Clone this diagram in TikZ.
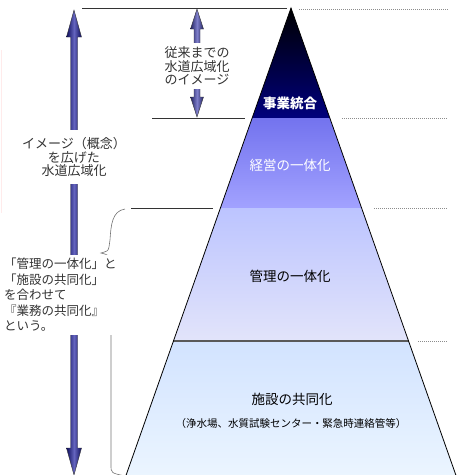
\documentclass[tikz,border=0pt]{standalone}
\usepackage{fontspec}
\setmainfont{Noto Sans CJK JP}
\usepackage{tikz}
\usetikzlibrary{positioning,calc}

\definecolor{navy}{RGB}{14,14,92}
\definecolor{lilac}{RGB}{100,100,190}
\definecolor{slate}{RGB}{35,35,100}
\definecolor{slatelt}{RGB}{125,125,200}
\definecolor{jgB}{RGB}{0,0,125}
\definecolor{keiA}{RGB}{115,115,238}
\definecolor{keiB}{RGB}{162,162,255}
\definecolor{kanA}{RGB}{188,196,255}
\definecolor{kanB}{RGB}{226,228,250}
\definecolor{shiA}{RGB}{210,227,255}
\definecolor{shiB}{RGB}{235,245,255}

% vertical block arrow: style, top tip, bottom tip, head length, head half width, shaft half width
\newcommand\blockarrow[6]{%
  \draw[#1] (#2) -- ++(#5,-#4) -- ++(#6-#5,0) -- ($(#3)+(#6,#4)$) -- ++(#5-#6,0) -- (#3)
    -- ++(-#5,#4) -- ++(#5-#6,0) -- ($(#2)+(-#6,-#4)$) -- ++(#6-#5,0) -- cycle;}

\begin{document}
\begin{tikzpicture}[x=1pt, y=1pt,
    guide/.style={black!80, line width=0.8pt},
    dots/.style={black!45, line width=0.6pt, dash pattern=on 1pt off 1pt},
    bigarrow/.style={draw=black!80, line width=0.4pt, left color=navy, right color=navy, middle color=lilac},
    oldarrow/.style={draw=black!80, line width=0.4pt, left color=slate, right color=slate, middle color=slatelt},
    note/.style={fill=white, inner sep=1pt, align=center, text=black!80, font=\fontsize{13}{13.5}\selectfont},
    layer/.style={font=\fontsize{13.5}{15}\selectfont}]
    \useasboundingbox (0,0) rectangle (463,-475);

    % pyramid
    \coordinate (apex) at (291,-8);
    \foreach \n/\y in {jg/118, kei/208, kan/341, bot/476}{
        \coordinate (\n-l) at ({291-0.353*(\y-8)},-\y);
        \coordinate (\n-r) at ({291+0.353*(\y-8)},-\y);
    }
    \path[top color=black, bottom color=jgB] (apex) -- (jg-r) -- (jg-l) -- cycle;
    \path[top color=keiA, bottom color=keiB] (jg-l) -- (jg-r) -- (kei-r) -- (kei-l) -- cycle;
    \path[top color=kanA, bottom color=kanB] (kei-l) -- (kei-r) -- (kan-r) -- (kan-l) -- cycle;
    \path[top color=shiA, bottom color=shiB] (kan-l) -- (kan-r) -- (bot-r) -- (bot-l) -- cycle;
    \draw[black!65, line width=1.4pt] (kan-l) -- (kan-r);
    \draw[line width=0.8pt] (bot-l) -- (apex) -- (bot-r);

    \node[white, font=\fontsize{13.5}{15}\selectfont\bfseries] (jigyo) at (290,-103) {事業統合};
    \node[layer, white] (keiei) at (290,-165) {経営の一体化};
    \node[layer] (kanri) at (290,-276) {管理の一体化};
    \node[layer] (shisetsu) at (292,-399) {施設の共同化};
    \node[font=\fontsize{10.5}{12}\selectfont] (rei) at (291,-424) {（浄水場、水質試験センター・緊急時連絡管等）};

    % level lines
    \foreach \n/\a/\b/\y in {0/82/287/8, 1/152/245/118, 2/131/213/208}{
        \coordinate (ga\n) at (\a,-\y);
        \coordinate (gb\n) at (\b,-\y);
        \draw[guide] (ga\n) -- (gb\n);
    }
    \foreach \n/\a/\y in {0/299/9, 1/342/118, 2/374/208, 3/418/341}{
        \coordinate (da\n) at (\a,-\y);
        \coordinate (db\n) at (448,-\y);
        \draw[dots] (da\n) -- (db\n);
    }
    \coordinate (edge a) at (1,-50);
    \coordinate (edge b) at (1,-213);
    \draw[red!8, line width=0.6pt] (edge a) -- (edge b);

    % arrows
    \coordinate (big top) at (74,-10);
    \coordinate (big bot) at (74,-475);
    \blockarrow{bigarrow}{big top}{big bot}{27}{7.5}{3.5}
    \coordinate (old top) at (197,-9);
    \coordinate (old bot) at (197,-117);
    \blockarrow{oldarrow}{old top}{old bot}{20}{6.5}{3}

    % brace
    \coordinate (br top) at (125,-209);
    \coordinate (br tip) at (101,-253);
    \coordinate (br bot) at (125,-476);
    \draw[black!55, line width=0.6pt] (br top) .. controls (112,-211) and (111,-225) .. (110,-240)
        -- (109,-247) .. controls (108,-251) .. (br tip)
        .. controls (109,-255) .. (111,-263) -- (111,-465) .. controls (111,-473) .. (br bot);

    % notes
    \node[note, inner ysep=7pt] (wide) at (74,-157) {イメージ（概念）\\を広げた\\水道広域化};
    \node[note, inner ysep=4pt] (old) at (197,-66) {従来までの\\水道広域化\\のイメージ};
    \node[note, align=left, anchor=north west, inner ysep=3pt,
          font=\fontsize{12.5}{15.5}\selectfont] (gyomu) at (3,-255)
          {「管理の一体化」と\\「施設の共同化」\\を合わせて\\『業務の共同化』\\という。};
\end{tikzpicture}
\end{document}
